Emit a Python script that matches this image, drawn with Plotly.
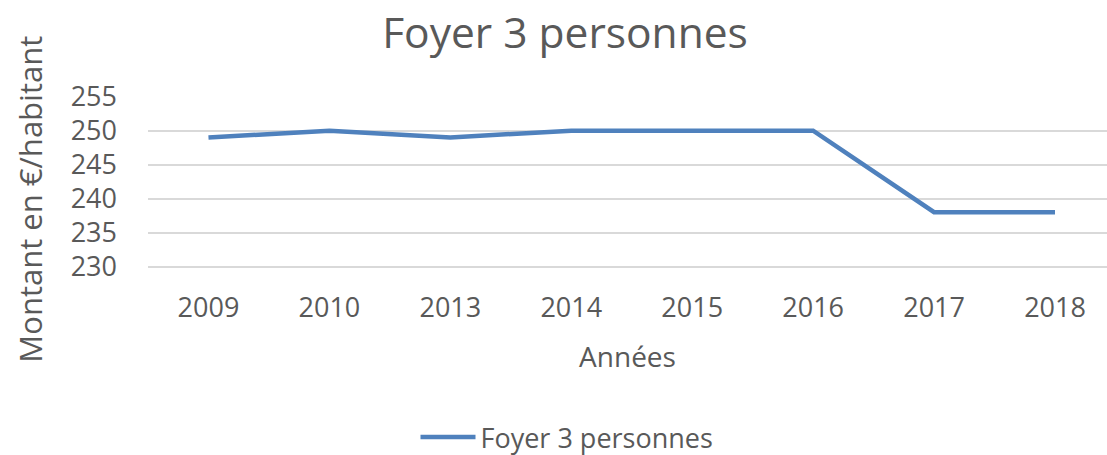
import plotly.graph_objects as go

years = ["2009", "2010", "2013", "2014", "2015", "2016", "2017", "2018"]
values = [249, 250, 249, 250, 250, 250, 238, 238]
y_ticks = [230, 235, 240, 245, 250, 255]
series_name = "Foyer 3 personnes"

W, H = 1107, 455
FONT = "Open Sans"
GRAY = "#595959"
PX_PER_UNIT = 6.8
Y_MIN, Y_MAX = 229.5, 255.1
PLOT_TOP = 97 - (Y_MAX - 255) * PX_PER_UNIT
PLOT_BOT = 267 + (230 - Y_MIN) * PX_PER_UNIT
PH = PLOT_BOT - PLOT_TOP
EXTRA = (230 - Y_MIN) * PX_PER_UNIT

fig = go.Figure()
fig.add_trace(go.Scatter(
    x=years, y=values, mode="lines", name=series_name,
    line=dict(color="#4F81BD", width=4.5),
))

fig.update_layout(
    width=W, height=H,
    paper_bgcolor="white", plot_bgcolor="white",
    margin=dict(l=148, r=0, t=PLOT_TOP, b=H - PLOT_BOT, autoexpand=False),
    font=dict(family=FONT, color=GRAY, size=27),
    title=dict(text="Foyer 3 personnes", font=dict(size=42.5, color=GRAY, family=FONT),
               x=565 / W, xanchor="center", xref="container",
               y=1 - 33 / H, yanchor="middle", yref="container"),
    showlegend=True,
    legend=dict(orientation="h", x=567 / W, xanchor="center", xref="container",
                y=(PLOT_BOT - 438) / PH, yanchor="middle", yref="paper",
                font=dict(size=27, color=GRAY), itemwidth=55),
    xaxis=dict(type="category", range=[-0.5, 7.43], showgrid=False, showline=False,
               zeroline=False, ticks="", ticklabelstandoff=int(round(22 - EXTRA)), automargin=False,
               title=dict(text="Années", font=dict(size=28, color=GRAY), standoff=23)),
    yaxis=dict(range=[Y_MIN, Y_MAX], tickvals=y_ticks, showgrid=True, gridcolor="#D9D9D9",
               gridwidth=1.5, zeroline=False, showline=False, ticks="",
               ticklabelstandoff=30, automargin=False),
    annotations=[dict(text="Montant en €/habitant", textangle=-90,
                      xref="paper", yref="paper", x=(30 - 148) / (W - 148), y=(PLOT_BOT - 200) / PH,
                      xanchor="center", yanchor="middle", showarrow=False,
                      font=dict(size=31, color=GRAY, family=FONT))],
)

fig.write_html("out.html", config={"displayModeBar": False},
               post_script="document.body.style.margin='0px';")
